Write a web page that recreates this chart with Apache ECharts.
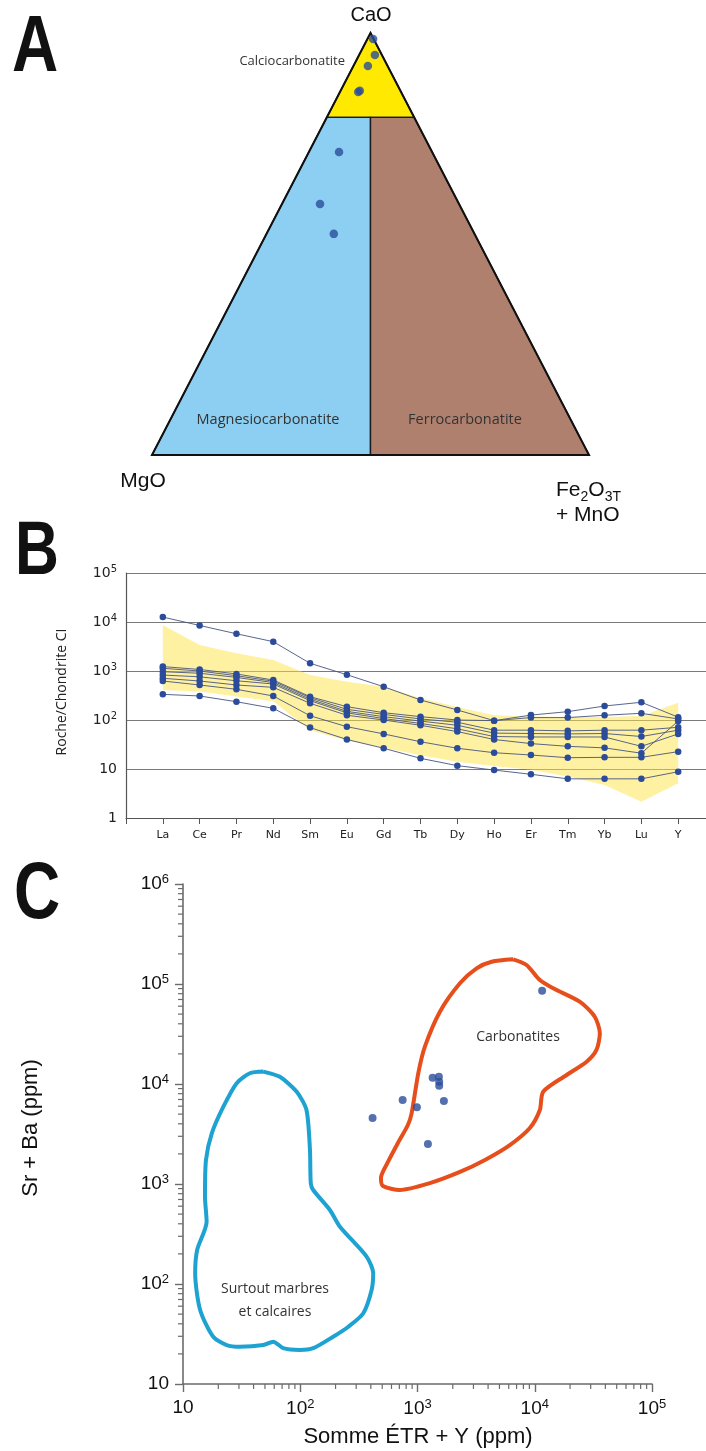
<!DOCTYPE html>
<html>
<head>
<meta charset="utf-8">
<script src="https://cdn.jsdelivr.net/npm/echarts@6/dist/echarts.min.js"></script>
<style>
  html, body { margin: 0; padding: 0; background: #fff; }
  #chart { width: 706px; height: 1451px; }
</style>
</head>
<body>
<div id="chart"></div>
<script>
// --- A : ternaire CaO / MgO / Fe2O3T+MnO (en %) ---
const calcioRegion = [[100, 0, 0], [80, 20, 0], [80, 0, 20]];
const magnesioRegion = [[80, 20, 0], [0, 100, 0], [0, 50, 50], [80, 10, 10]];
const ferroRegion = [[80, 10, 10], [0, 50, 50], [0, 0, 100], [80, 0, 20]];
const ternaryOutline = [[100, 0, 0], [0, 100, 0], [0, 0, 100]];
const ternarySamples = [
    [98.6, 0.1, 1.3], [94.8, 1.6, 3.6], [92.2, 4.5, 3.3], [86.3, 9.3, 4.4],
    [86.0, 9.8, 4.2], [71.8, 21.3, 6.9], [59.5, 31.8, 8.7], [52.4, 32.2, 15.4]
];

// --- B : spectres ETR normalises chondrite CI ---
const reeLabels = ['La', 'Ce', 'Pr', 'Nd', 'Sm', 'Eu', 'Gd', 'Tb', 'Dy', 'Ho', 'Er', 'Tm', 'Yb', 'Lu', 'Y'];
const reeTop = [12600, 8500, 5750, 3970, 1435, 840, 478, 256, 160, 97, 126, 148, 193, 230, 114];
const reeS2 = [1230, 1075, 870, 655, 299, 187, 141, 117, 100, 97, 112, 112, 125, 137, 105];
const reeS3 = [1135, 1000, 800, 620, 285, 165, 130, 105, 90, 62, 62, 60, 62, 62, 71];
const reeS4 = [968, 900, 740, 580, 265, 150, 117, 95, 78, 54, 53, 52, 53, 46, 62];
const reeS5 = [828, 760, 632, 543, 248, 140, 107, 85, 66, 46, 45, 45, 45, 29, 52];
const reeS6 = [710, 625, 518, 464, 219, 125, 100, 78, 58, 40, 33, 29, 27, 21, 95];
const reeS7 = [625, 518, 423, 309, 122, 73, 52, 36, 26.5, 21.5, 19.3, 17, 17.3, 17.3, 22.6];
const reeLow = [334, 309, 236, 173, 70, 40, 26.5, 16.5, 11.7, 9.5, 7.8, 6.3, 6.3, 6.3, 8.8];
const bandUpper = [8700, 3400, 2300, 1670, 830, 605, 478, 280, 185, 125, 118, 115, 115, 120, 225];
const bandLower = [410, 380, 300, 240, 62, 38, 27, 19, 14, 11.5, 9.6, 7, 4.7, 2.15, 5.1];

// --- C : Sr+Ba vs somme ETR+Y ---
const blueX = [48.4, 67, 93, 113, 121, 123, 129, 179, 218, 368, 419, 406, 345, 257, 191, 129, 99, 71.6, 58.9, 48.4, 30.6, 23.6, 18.1, 14, 12.7, 13.2, 15.9, 15.4, 15.7, 17.6, 22.1, 28.7, 37.2];
const blueY = [13300, 11800, 8400, 5500, 2190, 1015, 871, 550, 374, 188, 128, 87, 51, 37.4, 29.7, 22.8, 21.9, 22.8, 26.5, 24.5, 23.6, 24.5, 29.7, 55, 128, 219, 420, 747, 1740, 3210, 5930, 10200, 12800];
const orangeX = [6550, 8510, 11050, 14350, 24200, 32500, 35900, 33600, 27700, 18700, 11800, 11050, 9080, 6130, 3760, 2300, 1275, 708, 507, 488, 560, 681, 828, 891, 1015, 1156, 1553, 2300, 3190, 4290];
const orangeY = [176600, 155000, 109600, 90600, 66500, 47100, 32100, 21900, 16700, 12300, 8380, 5500, 3630, 2450, 1740, 1320, 1020, 871, 955, 1150, 1660, 2570, 3890, 5090, 12800, 23600, 52800, 101600, 143600, 167100];
const sampleX = [11560, 1346, 1522, 1531, 1531, 747, 1679, 988, 414, 1227];
const sampleY = [85700, 11560, 11830, 10540, 9620, 6920, 6760, 5850, 4570, 2510];
const minorMult = [2, 3, 4, 5, 6, 7, 8, 9];
const xDecades = [10, 100, 1000, 10000];
const yDecades = [10, 100, 1000, 10000, 100000];

const dotColor = '#2b4c9a';

// CaO en haut, MgO a gauche, Fe a droite
function tern(p) {
    return [p[2] + p[0] / 2, p[0]];
}

const ternaryRegions = [
    { pts: calcioRegion, color: '#ffe900' },
    { pts: magnesioRegion, color: '#8ccff2' },
    { pts: ferroRegion, color: '#b0806e' }
];

function supLabel(v) {
    const n = Math.round(Math.log10(v));
    if (n === 0) return '1';
    if (n === 1) return '10';
    return '10{sup|' + n + '}';
}

const reeSeries = [reeTop, reeS2, reeS3, reeS4, reeS5, reeS6, reeS7, reeLow].map(function (arr) {
    return {
        type: 'line',
        xAxisIndex: 1,
        yAxisIndex: 1,
        data: arr.map(function (v, i) { return [i + 1, v]; }),
        symbol: 'circle',
        symbolSize: 6.5,
        itemStyle: { color: dotColor },
        lineStyle: { color: '#46557f', width: 0.9 },
        z: 4,
        silent: true
    };
});

const minorTicks = [];
xDecades.forEach(function (d) { minorMult.forEach(function (m) { minorTicks.push([d * m, 10, 0]); }); });
yDecades.forEach(function (d) { minorMult.forEach(function (m) { minorTicks.push([10, d * m, 1]); }); });

function label(x, y, text, size, extra) {
    const style = Object.assign({
        text: text, fontSize: size, fontFamily: 'Liberation Sans', fill: '#111',
        align: 'center', verticalAlign: 'middle'
    }, extra || {});
    return { type: 'text', x: x, y: y, z: 100, style: style };
}

const chart = echarts.init(document.getElementById('chart'));

const option = {
    backgroundColor: '#fff',
    animation: false,
    grid: [
        { left: 152, top: 33, width: 437, height: 422, outerBoundsMode: 'none', containLabel: false },
        { left: 126, top: 573, width: 589, height: 245, outerBoundsMode: 'none', containLabel: false },
        { left: 183, top: 884, width: 469, height: 500, outerBoundsMode: 'none', containLabel: false }
    ],
    xAxis: [{
        gridIndex: 0, type: 'value', min: 0, max: 100, show: false
    }, {
        gridIndex: 1, type: 'value', min: 0, max: 16, interval: 1,
        axisLine: { lineStyle: { color: '#555', width: 1.2 } },
        axisTick: { show: true, length: 6, lineStyle: { color: '#555' } },
        axisLabel: {
            formatter: function (v) { return reeLabels[v - 1] || ''; },
            fontSize: 11, fontFamily: 'DejaVu Sans', color: '#222', margin: 12
        },
        splitLine: { show: false }
    }, {
        gridIndex: 2, type: 'log', logBase: 10, min: 10, max: 100000,
        axisLine: { lineStyle: { color: '#6b6b6b', width: 1.6 } },
        axisTick: { length: 8, lineStyle: { color: '#6b6b6b', width: 1.4 } },
        axisLabel: {
            formatter: supLabel, fontSize: 19, fontFamily: 'Liberation Sans', color: '#111', margin: 14,
            rich: { sup: { fontSize: 13, fontFamily: 'Liberation Sans', color: '#111', padding: [0, 0, 9, 0] } }
        },
        splitLine: { show: false }
    }],
    yAxis: [{
        gridIndex: 0, type: 'value', min: 0, max: 100, show: false
    }, {
        gridIndex: 1, type: 'log', logBase: 10, min: 1, max: 100000,
        axisLine: { show: true, lineStyle: { color: '#555', width: 1.2 } },
        axisTick: { show: false },
        axisLabel: {
            formatter: supLabel, fontSize: 14, fontFamily: 'DejaVu Sans', color: '#222', margin: 9,
            rich: { sup: { fontSize: 10, fontFamily: 'DejaVu Sans', color: '#222', padding: [0, 0, 7, 0] } }
        },
        splitLine: { show: true, lineStyle: { color: '#7a7a7a', width: 1.2 } }
    }, {
        gridIndex: 2, type: 'log', logBase: 10, min: 10, max: 1000000,
        axisLine: { show: true, lineStyle: { color: '#6b6b6b', width: 1.6 } },
        axisTick: { show: true, length: 8, lineStyle: { color: '#6b6b6b', width: 1.4 } },
        axisLabel: {
            formatter: supLabel, fontSize: 19, fontFamily: 'Liberation Sans', color: '#111', margin: 14,
            rich: { sup: { fontSize: 13, fontFamily: 'Liberation Sans', color: '#111', padding: [0, 0, 9, 0] } }
        },
        splitLine: { show: false }
    }],
    series: [{
        // champs du ternaire
        type: 'custom',
        xAxisIndex: 0, yAxisIndex: 0,
        clip: false, silent: true, z: 1,
        data: ternaryRegions.map(function (r) { return tern(r.pts[0]); }),
        renderItem: function (params, api) {
            const region = ternaryRegions[params.dataIndex];
            const pts = region.pts.map(function (p) { return api.coord(tern(p)); });
            return { type: 'polygon', shape: { points: pts }, style: { fill: region.color, stroke: '#1a1a1a', lineWidth: 1.4 } };
        }
    }, {
        type: 'custom',
        xAxisIndex: 0, yAxisIndex: 0,
        clip: false, silent: true, z: 2,
        data: [tern(ternaryOutline[0])],
        renderItem: function (params, api) {
            const pts = ternaryOutline.map(function (p) { return api.coord(tern(p)); });
            return { type: 'polygon', shape: { points: pts }, style: { fill: 'none', stroke: '#111', lineWidth: 2 } };
        }
    }, {
        type: 'scatter',
        xAxisIndex: 0, yAxisIndex: 0,
        data: ternarySamples.map(tern),
        symbolSize: 8.5,
        itemStyle: { color: dotColor },
        z: 5, silent: true
    }, {
        // enveloppe jaune des carbonatites
        type: 'custom',
        xAxisIndex: 1, yAxisIndex: 1,
        clip: false, silent: true, z: 1,
        data: [[1, bandUpper[0]]],
        renderItem: function (params, api) {
            const pts = [];
            bandUpper.forEach(function (v, i) { pts.push(api.coord([i + 1, v])); });
            for (let i = bandLower.length - 1; i >= 0; i--) pts.push(api.coord([i + 1, bandLower[i]]));
            return { type: 'polygon', shape: { points: pts }, style: { fill: 'rgba(255,228,70,0.5)' } };
        }
    }].concat(reeSeries).concat([{
        // petites graduations log
        type: 'custom',
        xAxisIndex: 2, yAxisIndex: 2,
        clip: false, silent: true,
        data: minorTicks,
        renderItem: function (params, api) {
            const p = api.coord([api.value(0), api.value(1)]);
            const isY = api.value(2) === 1;
            return {
                type: 'line',
                shape: isY ? { x1: p[0], y1: p[1], x2: p[0] - 5, y2: p[1] } : { x1: p[0], y1: p[1], x2: p[0], y2: p[1] + 5 },
                style: { stroke: '#6b6b6b', lineWidth: 1.2 }
            };
        }
    }, {
        type: 'line',
        xAxisIndex: 2, yAxisIndex: 2,
        data: blueX.concat([blueX[0]]).map(function (x, i) { return [x, blueY.concat([blueY[0]])[i]]; }),
        showSymbol: false, smooth: 0.25,
        lineStyle: { color: '#1da2d2', width: 4 },
        z: 3, silent: true
    }, {
        type: 'line',
        xAxisIndex: 2, yAxisIndex: 2,
        data: orangeX.concat([orangeX[0]]).map(function (x, i) { return [x, orangeY.concat([orangeY[0]])[i]]; }),
        showSymbol: false, smooth: 0.25,
        lineStyle: { color: '#e64f1c', width: 4 },
        z: 3, silent: true
    }, {
        type: 'scatter',
        xAxisIndex: 2, yAxisIndex: 2,
        data: sampleX.map(function (x, i) { return [x, sampleY[i]]; }),
        symbolSize: 8,
        itemStyle: { color: dotColor },
        z: 5, silent: true
    }]),
    graphic: [
        { type: 'text', x: 12, y: 49, z: 100, scaleX: 0.8, style: { text: 'A', fontSize: 80, fontWeight: 'bold', fontFamily: 'Liberation Sans', fill: '#111', align: 'left', verticalAlign: 'middle' } },
        { type: 'text', x: 15, y: 553, z: 100, scaleX: 0.8, style: { text: 'B', fontSize: 76, fontWeight: 'bold', fontFamily: 'Liberation Sans', fill: '#111', align: 'left', verticalAlign: 'middle' } },
        { type: 'text', x: 14, y: 896, z: 100, scaleX: 0.8, style: { text: 'C', fontSize: 80, fontWeight: 'bold', fontFamily: 'Liberation Sans', fill: '#111', align: 'left', verticalAlign: 'middle' } },

        label(371, 15, 'CaO', 20),
        label(143, 481, 'MgO', 21),
        label(556, 480, '{m|Fe}{sub|2}{m|O}{sub|3T}\n{m|+ MnO}', 21, {
            align: 'left', verticalAlign: 'top',
            rich: {
                m: { fontSize: 21, fontFamily: 'Liberation Sans', fill: '#111', padding: [0, 0, 4, 0] },
                sub: { fontSize: 14, fontFamily: 'Liberation Sans', fill: '#111', padding: [10, 0, 0, 0] }
            }
        }),
        label(345, 61, 'Calciocarbonatite', 13, { fontFamily: 'Open Sans', fill: '#333', align: 'right' }),
        label(268, 420, 'Magnesiocarbonatite', 14.5, { fontFamily: 'Open Sans', fill: '#333' }),
        label(465, 420, 'Ferrocarbonatite', 14.5, { fontFamily: 'Open Sans', fill: '#333' }),

        Object.assign(label(62, 692, 'Roche/Chondrite CI', 14, { fontFamily: 'Open Sans', fill: '#222' }), { rotation: Math.PI / 2 }),

        label(518, 1037, 'Carbonatites', 14, { fontFamily: 'Open Sans', fill: '#333' }),
        label(275, 1289, 'Surtout marbres', 14, { fontFamily: 'Open Sans', fill: '#333' }),
        label(275, 1312, 'et calcaires', 14, { fontFamily: 'Open Sans', fill: '#333' }),
        Object.assign(label(31, 1128, 'Sr + Ba (ppm)', 22), { rotation: Math.PI / 2 }),
        label(418, 1437, 'Somme ÉTR + Y (ppm)', 22)
    ]
};

chart.setOption(option);
</script>
</body>
</html>
